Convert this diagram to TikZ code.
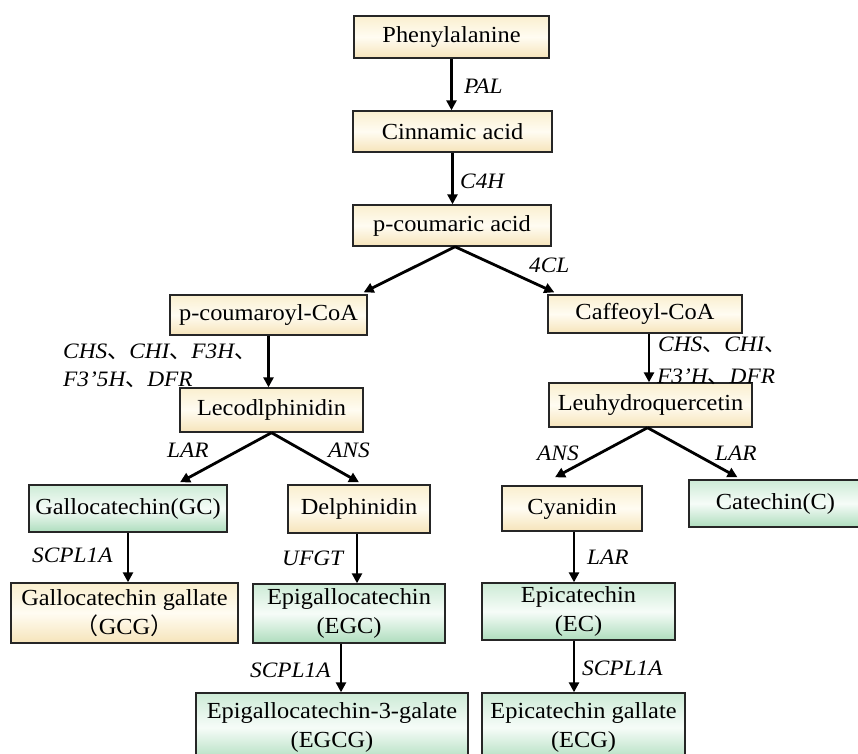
\documentclass[tikz,border=0pt]{standalone}
\usepackage{fontspec}
\setmainfont{Liberation Serif}[FakeStretch=1.06]
\newfontfamily\cjk{Noto Sans CJK SC}
\usetikzlibrary{arrows.meta}
\definecolor{ytop}{HTML}{FAEFCF}
\definecolor{ymid}{HTML}{FFFCF2}
\definecolor{ybot}{HTML}{F6E4BA}
\definecolor{gtop}{HTML}{CDEBD6}
\definecolor{gmid}{HTML}{F6FCF8}
\definecolor{gbot}{HTML}{AEDDBD}
\newcommand{\dun}{{\cjk 、}}
\tikzset{
  box/.style={draw=black!85, line width=1.4pt, inner sep=0pt, align=center,
    font=\fontsize{23}{29}\selectfont},
  ybox/.style={box, top color=ytop, bottom color=ybot, middle color=ymid},
  gbox/.style={box, top color=gtop, bottom color=gbot, middle color=gmid},
  arr/.style={line width=2.8pt, -{Triangle[length=10pt,width=10pt]}},
  lab/.style={font=\fontsize{22}{28}\selectfont\itshape, inner sep=0pt, anchor=west}
}
\begin{document}
\begin{tikzpicture}[x=1pt,y=-1pt]
\useasboundingbox (0,0) rectangle (858,753);
\clip (0,0) rectangle (858,753);
% boxes
\node[ybox, minimum width=195pt, minimum height=42pt] (phe) at (451.5,37) {Phenylalanine};
\node[ybox, minimum width=199pt, minimum height=41pt] (cin) at (452.5,131.5) {Cinnamic acid};
\node[ybox, minimum width=198pt, minimum height=41pt] (pcou) at (452,225.5) {p-coumaric acid};
\node[ybox, minimum width=197pt, minimum height=40pt] (pcoa) at (268.5,315) {p-coumaroyl-CoA};
\node[ybox, minimum width=194pt, minimum height=38pt] (caf) at (645,314) {Caffeoyl-CoA};
\node[ybox, minimum width=183pt, minimum height=44pt] (leco) at (271.5,410) {Lecodlphinidin};
\node[ybox, minimum width=203pt, minimum height=44pt] (leuh) at (650.5,405) {Leuhydroquercetin};
\node[gbox, minimum width=198pt, minimum height=47pt] (gc) at (128,508.5) {Gallocatechin(GC)};
\node[ybox, minimum width=142pt, minimum height=48pt] (del) at (359,509) {Delphinidin};
\node[ybox, minimum width=140pt, minimum height=45pt] (cya) at (572,508.5) {Cyanidin};
\node[gbox, minimum width=173pt, minimum height=47pt] (cat) at (775.5,503.5) {Catechin(C)};
\node[ybox, minimum width=227pt, minimum height=60pt] (gcg) at (124.5,613) {Gallocatechin gallate\\{\cjk （}GCG{\cjk ）}};
\node[gbox, minimum width=192pt, minimum height=59pt] (egc) at (349,613.5) {Epigallocatechin\\(EGC)};
\node[gbox, minimum width=193pt, minimum height=57pt] (ec) at (578.5,611.5) {Epicatechin\\(EC)};
\node[gbox, minimum width=272pt, minimum height=69pt] (egcg) at (332,727.5) {Epigallocatechin-3-galate\\(EGCG)};
\node[gbox, minimum width=203pt, minimum height=69pt] (ecg) at (583.5,727.5) {Epicatechin gallate\\(ECG)};
% connectors
\draw[arr] (phe.south) -- (phe.south |- cin.north);
\draw[arr] (cin.south) -- (cin.south |- pcou.north);
\coordinate (a1) at ([xshift=3pt]pcou.south);
\draw[arr] (a1) -- ([xshift=-4pt,yshift=2pt]pcoa.north east);
\draw[arr] (a1) -- ([xshift=7pt,yshift=2pt]caf.north west);
\draw[arr] (pcoa.south) -- (pcoa.south |- leco.north);
\draw[arr] ([xshift=4pt]caf.south) -- ([xshift=4pt]caf.south |- leuh.north);
\draw[arr] (leco.south) -- ([xshift=52pt,yshift=2pt]gc.north);
\draw[arr] (leco.south) -- ([yshift=2pt]del.north);
\coordinate (a2) at ([xshift=-3pt]leuh.south);
\draw[arr] (a2) -- ([xshift=-17pt,yshift=8pt]cya.north);
\draw[arr] (a2) -- ([xshift=-38pt,yshift=2pt]cat.north);
\draw[arr] (gc.south) -- (gc.south |- gcg.north);
\draw[arr] ([xshift=-2pt]del.south) -- ([xshift=-2pt]del.south |- egc.north);
\draw[arr] ([xshift=-8pt]egc.south) -- ([xshift=-8pt]egc.south |- egcg.north);
\draw[arr] ([xshift=2pt]cya.south) -- ([xshift=2pt]cya.south |- ec.north);
\draw[arr] ([xshift=-4.5pt]ec.south) -- ([xshift=-4.5pt]ec.south |- ecg.north);
% labels
\node[lab] (lpal) at (464,86) {PAL};
\node[lab] (lc4h) at (460,181) {C4H};
\node[lab] (l4cl) at (529,265) {4CL};
\node[lab] (lchs1) at (63,352) {CHS\dun CHI\dun F3H\dun};
\node[lab] (lchs2) at (63,380) {F3’5H\dun DFR};
\node[lab] (rchs1) at (658,345) {CHS\dun CHI\dun};
\node[lab] (rchs2) at (657,377) {F3’H\dun DFR};
\node[lab] (llar) at (167,450) {LAR};
\node[lab] (lans) at (328,450) {ANS};
\node[lab] (rans) at (537,453) {ANS};
\node[lab] (rlar) at (715,453) {LAR};
\node[lab] (ls1) at (32,555) {SCPL1A};
\node[lab] (lufgt) at (282,558) {UFGT};
\node[lab] (ls2) at (250,670) {SCPL1A};
\node[lab] (llar2) at (587,557) {LAR};
\node[lab] (ls3) at (582,668) {SCPL1A};
\end{tikzpicture}
\end{document}
